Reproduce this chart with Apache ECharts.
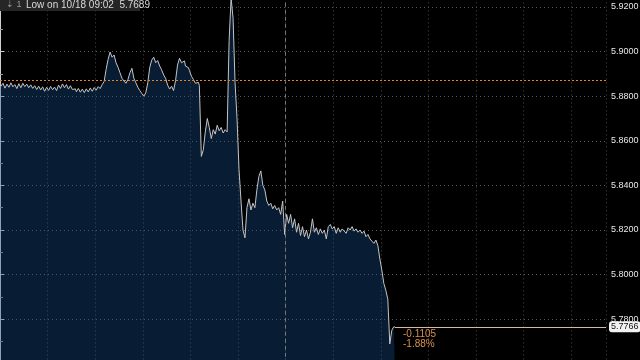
<!DOCTYPE html>
<html><head><meta charset="utf-8">
<script src="https://cdn.jsdelivr.net/npm/echarts@6/dist/echarts.min.js"></script>
<style>html,body{margin:0;padding:0;background:#000;}#c{width:640px;height:360px;}</style>
</head><body><div id="c"></div>
<script>
// Price series, one value per time slot (index = slot)
const prices = [
5.8862,5.8845,5.8858,5.8836,5.8854,5.8840,5.8860,5.8842,5.8852,5.8834,
5.8856,5.8838,5.8858,5.8843,5.8854,5.8838,5.8851,5.8835,5.8847,5.8830,
5.8845,5.8828,5.8842,5.8822,5.8840,5.8826,5.8844,5.8829,5.8841,5.8825,
5.8850,5.8835,5.8855,5.8838,5.8852,5.8832,5.8847,5.8830,5.8833,5.8820,
5.8835,5.8818,5.8832,5.8816,5.8833,5.8819,5.8837,5.8822,5.8839,5.8827,
5.8843,5.8834,5.8852,5.8866,5.8920,5.8965,5.8998,5.8975,5.8985,5.8950,
5.8930,5.8905,5.8880,5.8868,5.8858,5.8875,5.8905,5.8925,5.8880,5.8860,
5.8840,5.8825,5.8812,5.8800,5.8815,5.8860,5.8930,5.8962,5.8975,5.8950,
5.8960,5.8935,5.8918,5.8895,5.8880,5.8850,5.8832,5.8845,5.8825,5.8870,
5.8940,5.8970,5.8950,5.8958,5.8935,5.8928,5.8915,5.8890,5.8875,5.8858,
5.8862,5.8848,5.8530,5.8560,5.8640,5.8700,5.8660,5.8610,5.8650,5.8630,
5.8670,5.8645,5.8660,5.8635,5.8650,5.8640,5.9050,5.9240,5.9150,5.8860,
5.8700,5.8470,5.8330,5.8200,5.8165,5.8300,5.8340,5.8290,5.8320,5.8300,
5.8380,5.8440,5.8465,5.8400,5.8380,5.8330,5.8310,5.8320,5.8295,5.8310,
5.8290,5.8300,5.8270,5.8330,5.8180,5.8270,5.8230,5.8270,5.8210,5.8250,
5.8190,5.8230,5.8175,5.8215,5.8170,5.8200,5.8160,5.8190,5.8250,5.8190,
5.8210,5.8180,5.8205,5.8185,5.8200,5.8160,5.8215,5.8225,5.8205,5.8215,
5.8185,5.8210,5.8190,5.8205,5.8195,5.8185,5.8210,5.8200,5.8215,5.8195,
5.8205,5.8190,5.8200,5.8185,5.8195,5.8170,5.8180,5.8160,5.8150,5.8140,
5.8155,5.8130,5.8070,5.8020,5.7960,5.7930,5.7890,5.7689,5.7750,5.7766
];
const prevClose = 5.8871;
const lastPrice = 5.7766;
const netChange = "-0.1105";
const pctChange = "-1.88%";
const headerText = "Low on 10/18 09:02  5.7689";
const sessionSlots = 305.5;
const yTickStep = 0.02;

const seriesData = prices.map((v, i) => [i, v]);
const lastIdx = prices.length - 1;

const chart = echarts.init(document.getElementById('c'), null, {renderer: 'canvas'});
chart.setOption({
  backgroundColor: '#000',
  animation: false,
  grid: {left: 0, right: 34, top: -37.6, bottom: -3.8, containLabel: false, outerBoundsMode: 'none'},
  xAxis: {
    type: 'value', min: 0, max: sessionSlots, interval: 24,
    axisLine: {show: false}, axisTick: {show: false}, axisLabel: {show: false},
    splitLine: {show: true, lineStyle: {color: '#4a4a4a', type: [1, 3], width: 1}}
  },
  yAxis: {
    type: 'value', position: 'right', min: 5.76, max: 5.94, interval: yTickStep,
    axisLine: {show: true, lineStyle: {color: '#cfcfcf', width: 1}},
    axisTick: {show: true, length: 4, lineStyle: {color: '#cfcfcf'}},
    minorTick: {show: true, splitNumber: 2, length: 3, lineStyle: {color: '#9a9a9a'}},
    axisLabel: {color: '#e8e8e8', fontSize: 9, fontFamily: 'Liberation Sans, Arial, sans-serif', margin: 5,
      formatter: v => v.toFixed(4)},
    splitLine: {show: true, lineStyle: {color: '#5a5a5a', type: [1, 3], width: 1}}
  },
  series: [{
    type: 'line',
    data: seriesData,
    showSymbol: false,
    symbol: 'none',
    step: 'middle',
    lineStyle: {color: '#c4c4c4', width: 1},
    areaStyle: {color: 'rgba(24,80,146,0.5)', origin: 'start'},
    markLine: {
      silent: true, symbol: ['none', 'none'], animation: false,
      data: [
        [{coord: [0, prevClose], lineStyle: {color: '#e8822a', type: [2, 2], width: 1}, label: {show: false}},
         {coord: [sessionSlots, prevClose]}],
        [{coord: [lastIdx, lastPrice], lineStyle: {color: '#d9b89a', type: 'solid', width: 1},
          label: {show: true, position: 'end', formatter: lastPrice.toFixed(4), color: '#111', backgroundColor: '#f2f2f2',
            borderRadius: 3, padding: [1, 2, 1, 2], fontSize: 9, distance: 3}},
         {coord: [sessionSlots, lastPrice]}],
        [{coord: [144, 5.76], lineStyle: {color: '#777', type: [4, 3], width: 1}, label: {show: false}},
         {coord: [144, 5.94]}]
      ]
    }
  }],
  graphic: [
    {type: 'rect', left: 0, top: 0, shape: {width: 140, height: 11}, style: {fill: '#262626'}, z: 100},
    {type: 'text', left: 6, top: 0, style: {text: '⇣ 1', fill: '#9a9a9a', font: '9px Liberation Sans, Arial'}, z: 101},
    {type: 'text', left: 26, top: 0, style: {text: headerText, fill: '#d8d8d8', font: '10px Liberation Sans, Arial'}, z: 101},
    {type: 'text', left: 403, top: 329, style: {text: netChange, fill: '#d9914a', font: '10px Liberation Sans, Arial'}, z: 101},
    {type: 'text', left: 403, top: 339, style: {text: pctChange, fill: '#d9914a', font: '10px Liberation Sans, Arial'}, z: 101}
  ]
});
</script></body></html>
